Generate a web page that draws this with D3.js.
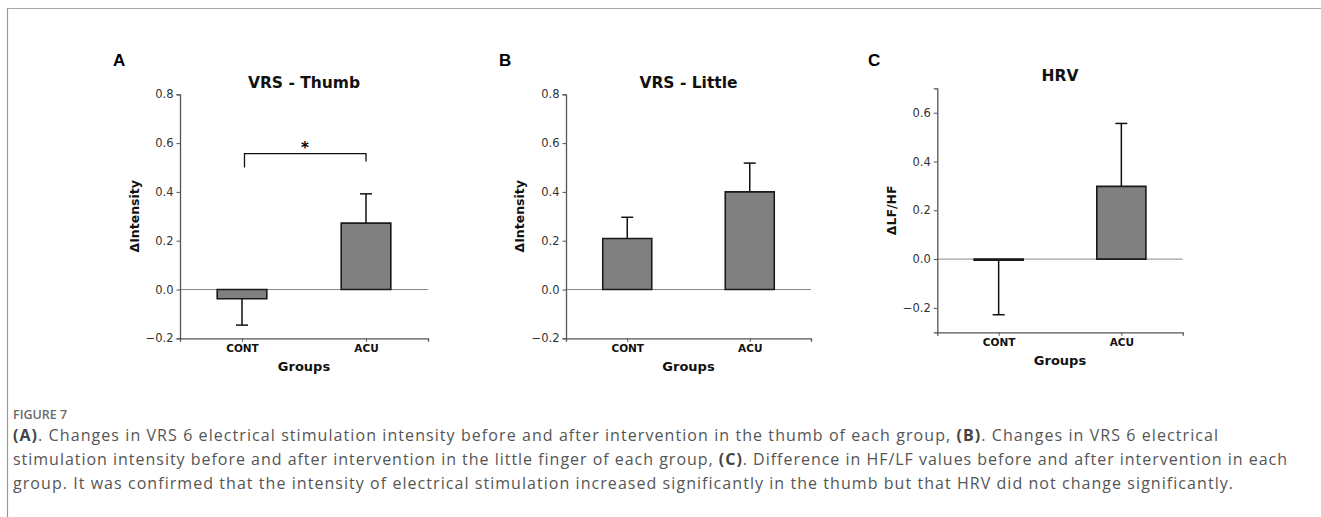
<!DOCTYPE html>
<html>
<head>
<meta charset="utf-8">
<script src="https://cdn.jsdelivr.net/npm/d3@7"></script>
<style>
  body { margin: 0; background: #fff; }
  svg { display: block; }
  .tick text { font-family: "DejaVu Sans", sans-serif; }
</style>
</head>
<body>
<svg id="fig" width="1321" height="517"></svg>
<script>
// Data
const groups = ["CONT", "ACU"];
const thumbMeans = [-0.038, 0.272];
const thumbErr = [0.108, 0.12];
const littleMeans = [0.209, 0.40];
const littleErr = [0.087, 0.118];
const hrvMeans = [-0.004, 0.298];
const hrvErr = [0.224, 0.258];
const ticksAB = [-0.2, 0.0, 0.2, 0.4, 0.6, 0.8];
const ticksC = [-0.2, 0.0, 0.2, 0.4, 0.6];
const captionHead = "FIGURE 7";
const captionLines = [
    [["(A)", true], [". Changes in VRS 6 electrical stimulation intensity before and after intervention in the thumb of each group, ", false], ["(B)", true], [". Changes in VRS 6 electrical", false]],
    [["stimulation intensity before and after intervention in the little finger of each group, ", false], ["(C)", true], [". Difference in HF/LF values before and after intervention in each", false]],
    [["group. It was confirmed that the intensity of electrical stimulation increased significantly in the thumb but that HRV did not change significantly.", false]]
];

const svg = d3.select("#fig");

// frame lines
svg.append("line").attr("x1", 7).attr("x2", 1321).attr("y1", 8.5).attr("y2", 8.5)
    .attr("stroke", "#aaa").attr("stroke-width", 1.2);
svg.append("line").attr("x1", 7.5).attr("x2", 7.5).attr("y1", 8).attr("y2", 517)
    .attr("stroke", "#999").attr("stroke-width", 1.2);

const panels = [
    {letter: "A", title: "VRS - Thumb", ylabel: "\u0394Intensity", means: thumbMeans, errs: thumbErr,
        domain: [-0.2, 0.8], ticks: ticksAB, x0: 180, x1: 428, yTop: 94.3, yBot: 338.3,
        letterX: 113, letterY: 66, titleY: 87.5, ylabX: 134, sig: true},
    {letter: "B", title: "VRS - Little", ylabel: "\u0394Intensity", means: littleMeans, errs: littleErr,
        domain: [-0.2, 0.8], ticks: ticksAB, x0: 566, x1: 811, yTop: 94.3, yBot: 338.3,
        letterX: 499, letterY: 66, titleY: 87.5, ylabX: 519.5, sig: false},
    {letter: "C", title: "HRV", ylabel: "\u0394LF/HF", means: hrvMeans, errs: hrvErr,
        domain: [-0.3, 0.7], ticks: ticksC, x0: 937.3, x1: 1182.7, yTop: 88.3, yBot: 332.3,
        letterX: 868, letterY: 66, titleY: 80.5, ylabX: 891.5, sig: false}
];

panels.forEach(function (p) {
    const g = svg.append("g");
    const x = d3.scaleLinear().domain([-0.5, 1.5]).range([p.x0, p.x1]);
    const y = d3.scaleLinear().domain(p.domain).range([p.yBot, p.yTop]);
    const bw = x(0.2) - x(-0.2);

    // panel letter
    g.append("text").attr("x", p.letterX).attr("y", p.letterY)
        .style("font-family", "Liberation Sans, Arial, sans-serif").style("font-weight", "bold")
        .style("font-size", "17px").text(p.letter);

    // title
    g.append("text").attr("x", (p.x0 + p.x1) / 2).attr("y", p.titleY)
        .attr("text-anchor", "middle")
        .style("font-family", "DejaVu Sans, sans-serif").style("font-weight", "bold")
        .style("font-size", "15.5px").attr("fill", "#111").text(p.title);

    // zero line
    g.append("line").attr("x1", p.x0).attr("x2", p.x1).attr("y1", y(0)).attr("y2", y(0))
        .attr("stroke", "#888").attr("stroke-width", 1);

    // error bars (outward half only)
    p.means.forEach(function (m, i) {
        const end = m <= 0 ? m - p.errs[i] : m + p.errs[i];
        g.append("line").attr("x1", x(i)).attr("x2", x(i)).attr("y1", y(m)).attr("y2", y(end))
            .attr("stroke", "#111").attr("stroke-width", 1.5);
        g.append("line").attr("x1", x(i) - 6).attr("x2", x(i) + 6).attr("y1", y(end)).attr("y2", y(end))
            .attr("stroke", "#111").attr("stroke-width", 1.5);
    });

    // bars
    g.selectAll("path.bar").data(p.means).enter().append("path")
        .attr("class", "bar")
        .attr("d", function (d, i) {
            const pa = d3.path();
            const yt = y(Math.max(0, d)), yb = y(Math.min(0, d));
            pa.rect(x(i) - bw / 2, yt, bw, Math.max(yb - yt, 0.01));
            return pa.toString();
        })
        .attr("fill", "#808080").attr("stroke", "#1a1a1a").attr("stroke-width", 1.6);

    // axes
    const yAxis = d3.axisLeft(y).tickValues(p.ticks).tickSize(3.5).tickPadding(3)
        .tickFormat(function (d) { return d < 0 ? "\u2212" + Math.abs(d).toFixed(1) : d.toFixed(1); });
    const ya = g.append("g").attr("transform", "translate(" + p.x0 + ",0)").call(yAxis);
    ya.select(".domain").attr("stroke", "#555").attr("stroke-width", 1.3);
    ya.selectAll(".tick line").attr("stroke", "#555");
    ya.selectAll(".tick text").style("font-size", "11.5px").attr("fill", "#333");

    const xAxis = d3.axisBottom(x).tickValues([0, 1]).tickSize(3.5).tickPadding(3)
        .tickFormat(function (d) { return groups[d]; });
    const xa = g.append("g").attr("transform", "translate(0," + p.yBot + ")").call(xAxis);
    xa.select(".domain").attr("stroke", "#555").attr("stroke-width", 1.3);
    xa.selectAll(".tick line").attr("stroke", "#555");
    xa.selectAll(".tick text").style("font-size", "10.5px").style("font-weight", "bold").attr("fill", "#111");

    // axis labels
    g.append("text").attr("x", (p.x0 + p.x1) / 2).attr("y", p.yBot + 33)
        .attr("text-anchor", "middle")
        .style("font-family", "DejaVu Sans, sans-serif").style("font-weight", "bold")
        .style("font-size", "13px").attr("fill", "#111").text("Groups");
    g.append("text")
        .attr("transform", "translate(" + p.ylabX + "," + (p.yTop + p.yBot) / 2 + ") rotate(-90)")
        .attr("text-anchor", "middle").attr("dy", "0.36em")
        .style("font-family", "DejaVu Sans, sans-serif").style("font-weight", "bold")
        .style("font-size", "12.5px").attr("fill", "#111").text(p.ylabel);

    // significance bracket
    if (p.sig) {
        const hy = 0.557;
        const bracket = d3.path();
        bracket.moveTo(x(0) + 2.5, y(0.50));
        bracket.lineTo(x(0) + 2.5, y(hy));
        bracket.lineTo(x(1), y(hy));
        bracket.lineTo(x(1), y(0.525));
        g.append("path").attr("d", bracket.toString()).attr("fill", "none")
            .attr("stroke", "#111").attr("stroke-width", 1.3);
        g.append("text").attr("x", (x(0) + x(1)) / 2 + 1).attr("y", y(hy) - 1)
            .attr("text-anchor", "middle")
            .style("font-family", "DejaVu Sans, sans-serif").style("font-weight", "bold")
            .style("font-size", "15px").text("*");
    }
});

// caption
svg.append("text").attr("x", 13).attr("y", 418.5)
    .style("font-family", "Open Sans, sans-serif").style("font-weight", "600")
    .style("font-size", "12.5px").attr("fill", "#6a6a6a").text(captionHead);

const lineTargets = [1218, 1287, 1233];
const lineY = [441, 465, 489];
captionLines.forEach(function (parts, li) {
    const t = svg.append("text").attr("x", 13).attr("y", lineY[li])
        .style("font-family", "Open Sans, sans-serif").style("font-size", "16px")
        .attr("fill", "#555");
    parts.forEach(function (pt) {
        t.append("tspan").style("font-weight", pt[1] ? "bold" : "normal")
            .attr("fill", pt[1] ? "#444" : "#555").text(pt[0]);
    });
    const w = t.node().getComputedTextLength();
    const n = parts.map(function (pt) { return pt[0]; }).join("").length;
    const ls = (lineTargets[li] - 13 - w) / (n - 1);
    t.style("letter-spacing", ls + "px");
});
</script>
</body>
</html>
